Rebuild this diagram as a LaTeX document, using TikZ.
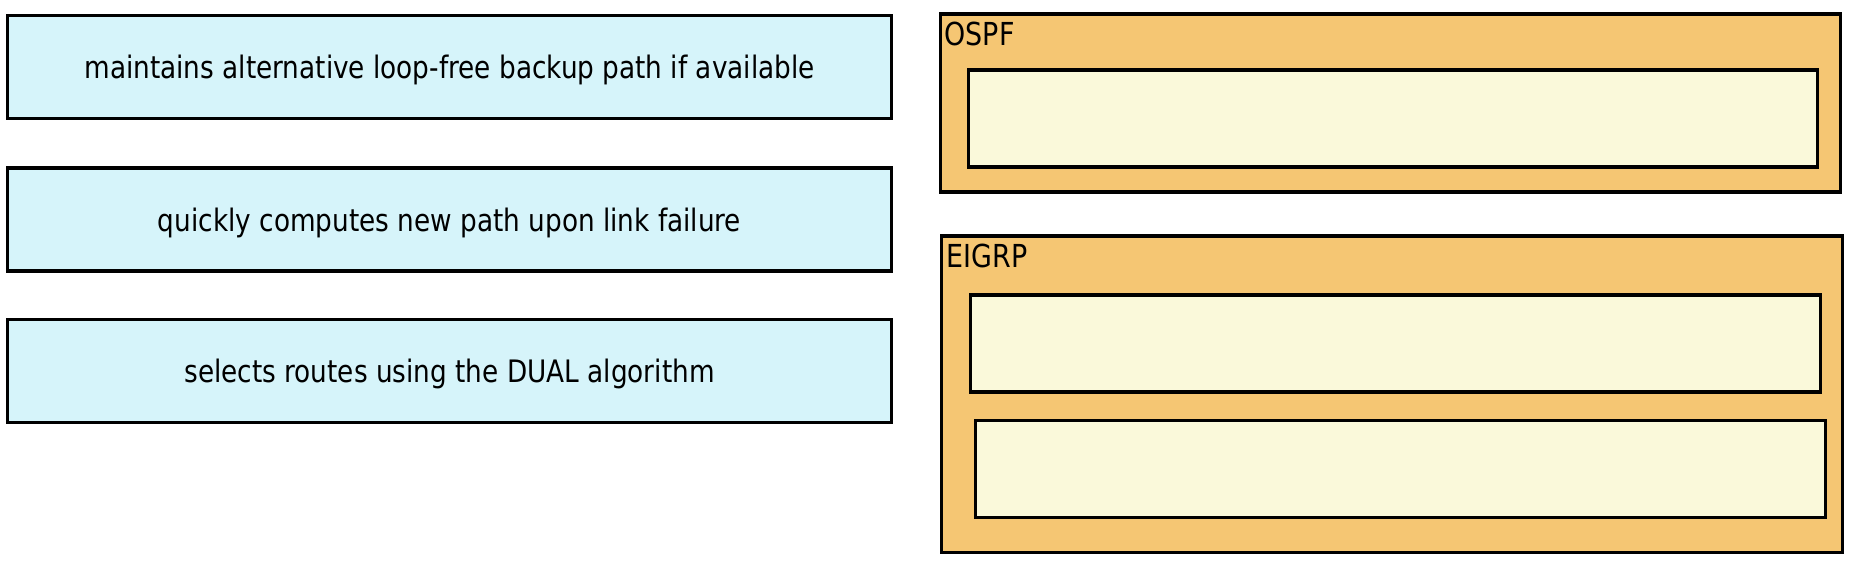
\documentclass[tikz,border=0pt]{standalone}
\usepackage{xcolor}
\usepackage{fontspec}
\setmainfont[FakeStretch=0.85]{DejaVu Sans}
\usepackage{tikz}

\definecolor{itemblue}{RGB}{214,244,250}
\definecolor{grouporange}{RGB}{245,198,115}
\definecolor{slotcream}{RGB}{250,249,218}

\begin{document}
\begin{tikzpicture}[
    x=0.01cm, y=-0.01cm,
    every node/.style={draw, rectangle, line width=0.9pt, inner sep=0pt},
    item/.style={fill=itemblue, minimum width=8.83cm, minimum height=1.03cm,
      text depth=0pt, font=\fontsize{8.8}{10}\selectfont},
    group/.style={fill=grouporange, minimum width=9cm},
    slot/.style={fill=slotcream, minimum width=8.49cm, minimum height=0.97cm},
    grouplabel/.style={draw=none, fill=none, anchor=base west,
      font=\fontsize{9}{11}\selectfont}
  ]
    \useasboundingbox (0,0) rectangle (1854,560);
    % answers on the left
    \node[item] (maint) at (449.5,67) {maintains alternative loop-free backup path if available};
    \node[item] (quick) at (449.5,219.5) {quickly computes new path upon link failure};
    \node[item] (dual) at (449.5,371) {selects routes using the DUAL algorithm};
    % targets on the right
    \node[group, minimum height=1.78cm] (ospf) at (1390.5,103) {};
    \node[grouplabel] (ospflabel) at (943,45) {OSPF};
    \node[slot] (ospfslot) at (1393,118.5) {};
    \node[group, minimum height=3.16cm] (eigrp) at (1392,394) {};
    \node[grouplabel] (eigrplabel) at (945,267) {EIGRP};
    \node[slot] (eigrpslota) at (1395.5,343.5) {};
    \node[slot] (eigrpslotb) at (1400.5,469) {};
\end{tikzpicture}
\end{document}
